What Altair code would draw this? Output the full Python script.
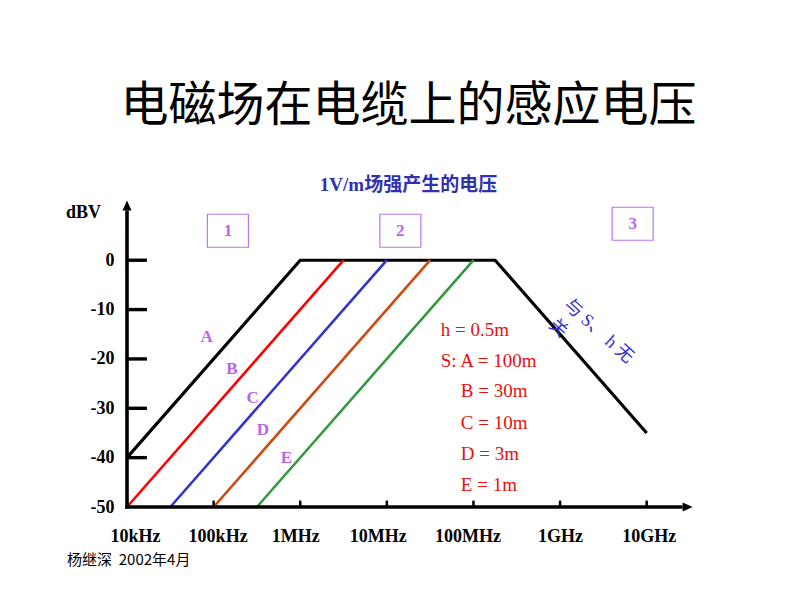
import altair as alt
import pandas as pd

# ---------------- values ----------------
# x axis: decades above 10 kHz
decades = [0, 1, 2, 3, 4, 5, 6]
freq_labels = ["10kHz", "100kHz", "1MHz", "10MHz", "100MHz", "1GHz", "10GHz"]
freq_label_shift = [8, 4, -5, -9, -6, 0, 2]
db_ticks = [0, -10, -20, -30, -40, -50]

# curves: (decade, dBV)
series_names = ["A", "B", "C", "D", "E"]
a_dec = [0, 2, 4.25, 6]
a_db = [-40, 0, 0, -35]
b_dec = [0, 2.5]
b_db = [-50, 0]
c_dec = [0.5, 3.0]
c_db = [-50, 0]
d_dec = [1.0, 3.5]
d_db = [-50, 0]
e_dec = [1.5, 4.0]
e_db = [-50, 0]
series_colors = ["#000000", "#ff0000", "#3333cc", "#cc4a12", "#33993d"]
series_widths = [3.2, 2.6, 2.6, 2.6, 2.6]

# curve labels
curve_label_dec = [0.92, 1.21, 1.45, 1.57, 1.84]
curve_label_db = [-15.6, -22.1, -27.9, -34.4, -40.1]

# region boxes
region_labels = ["1", "2", "3"]
region_dec = [1.165, 3.156, 5.838]
region_db = [5.97, 5.97, 7.39]

# legend text (red)
note_lines = ["h = 0.5m", "S: A = 100m", "B = 30m", "C = 10m", "D = 3m", "E = 1m"]
note_dec = [3.623, 3.623, 3.854, 3.854, 3.854, 3.854]
note_db = [-14.17, -20.45, -26.5, -33.0, -39.27, -45.55]

# rotated note
rot_lines = ["与\u00a0S、\u00a0h\u00a0无", "关"]
rot_dec = [5.073, 4.90]
rot_db = [-8.56, -12.6]

TITLE = "电磁场在电缆上的感应电压"
SUBTITLE = "1V/m场强产生的电压"
FOOTER = "杨继深\u00a0\u00a02002年4月"
Y_UNIT = "dBV"

# ---------------- tables ----------------
all_dec = [a_dec, b_dec, c_dec, d_dec, e_dec]
all_db = [a_db, b_db, c_db, d_db, e_db]
rows = []
for name, xs, ys, w in zip(series_names, all_dec, all_db, series_widths):
    for i, (x, y) in enumerate(zip(xs, ys)):
        rows.append({"series": name, "i": i, "d": x, "db": y, "w": w})
lines_df = pd.DataFrame(rows)

X_SCALE = alt.Scale(domain=[0, 6.5], nice=False, zero=False)
Y_SCALE = alt.Scale(domain=[-50, 12], nice=False, zero=False)

label_expr = "[" + ",".join(f"'{s}'" for s in freq_labels) + "][datum.value]"
x_axis = alt.Axis(
    values=decades, labelExpr=label_expr, domain=False, ticks=False, grid=False,
    labelFont="Liberation Serif", labelFontWeight="bold", labelFontSize=18,
    labelColor="black", labelPadding=20, labelFlush=False, labelOverlap=False,
    labelOffset={"condition": [{"test": f"datum.value == {d}", "value": o}
                               for d, o in zip(decades, freq_label_shift) if o != 0],
                 "value": 0},
    title=None,
)
y_axis = alt.Axis(
    values=db_ticks, domain=False, ticks=False, grid=False,
    labelExpr="datum.value < 0 ? '-' + abs(datum.value) : '' + datum.value",
    labelFont="Liberation Serif", labelFontWeight="bold", labelFontSize=18,
    labelColor="black", labelPadding=13, labelFlush=False, labelOverlap=False,
    title=None,
)


def X(f="d"):
    return alt.X(f, type="quantitative", scale=X_SCALE, axis=x_axis)


def Y(f="db"):
    return alt.Y(f, type="quantitative", scale=Y_SCALE, axis=y_axis)


# axis lines and ticks (data units)
y_top = 10.1
x_end = 6.415
axis_df = pd.DataFrame([
    {"d": 0, "d2": 0, "db": -50.3, "db2": y_top},
    {"d": -0.02, "d2": x_end, "db": -50, "db2": -50},
])
ytick_df = pd.DataFrame([{"d": 0, "d2": 0.23, "db": v, "db2": v} for v in db_ticks if v != -50])
xtick_df = pd.DataFrame([{"d": v, "d2": v, "db": -50, "db2": -48.7} for v in decades if v != 0])
arrow_df = pd.DataFrame([
    {"d": 0, "db": y_top, "shape": "M0,-10L-4.5,0L4.5,0Z"},
    {"d": x_end, "db": -50, "shape": "M10,0L0,-4.5L0,4.5Z"},
])

axis_lines = alt.Chart(axis_df).mark_rule(color="black", strokeWidth=3.6).encode(
    x=X(), x2="d2:Q", y=Y(), y2="db2:Q")
yticks = alt.Chart(ytick_df).mark_rule(color="black", strokeWidth=3.4).encode(
    x=X(), x2="d2:Q", y=Y(), y2="db2:Q")
xticks = alt.Chart(xtick_df).mark_rule(color="black", strokeWidth=2.5).encode(
    x=X(), x2="d2:Q", y=Y(), y2="db2:Q")
arrows = alt.Chart(arrow_df).mark_point(filled=True, opacity=1, size=4, color="black").encode(
    x=X(), y=Y(), shape=alt.Shape("shape:N", scale=None))

curves = alt.Chart(lines_df).mark_line(strokeCap="butt").encode(
    x=X(), y=Y(), order="i:Q",
    color=alt.Color("series:N", scale=alt.Scale(domain=series_names, range=series_colors), legend=None),
    strokeWidth=alt.StrokeWidth("w:Q", scale=None),
)

curve_lbl = alt.Chart(pd.DataFrame({"t": series_names, "d": curve_label_dec, "db": curve_label_db})).mark_text(
    font="Liberation Serif", fontWeight="bold", fontSize=17, color="#b866ee", baseline="middle"
).encode(x=X(), y=Y(), text="t:N")

box_df = pd.DataFrame({"t": region_labels, "d": region_dec, "db": region_db})
boxes = alt.Chart(box_df).mark_point(
    shape="M-20.5,-16.5L20.5,-16.5L20.5,16.5L-20.5,16.5Z", size=4, filled=False,
    stroke="#b877ee", strokeWidth=1.2, opacity=1
).encode(x=X(), y=Y())
box_txt = alt.Chart(box_df).mark_text(
    font="Liberation Serif", fontWeight="bold", fontSize=17, color="#b866ee", baseline="middle"
).encode(x=X(), y=Y(), text="t:N")

notes = alt.Chart(pd.DataFrame({"t": note_lines, "d": note_dec, "db": note_db})).mark_text(
    font="Liberation Serif", fontSize=19, color="#e81010", align="left", baseline="middle"
).encode(x=X(), y=Y(), text="t:N")

rot = alt.Chart(pd.DataFrame({"t": rot_lines, "d": rot_dec, "db": rot_db})).mark_text(
    font="Liberation Serif, Noto Sans CJK SC", fontSize=18, color="#3333cc", align="left",
    baseline="middle", angle=42
).encode(x=X(), y=Y(), text="t:N")

unit = alt.Chart(pd.DataFrame({"t": [Y_UNIT], "d": [-0.502], "db": [9.58]})).mark_text(
    font="Liberation Serif", fontWeight="bold", fontSize=18, color="black", baseline="middle"
).encode(x=X(), y=Y(), text="t:N")

footer = alt.Chart(pd.DataFrame({"t": [FOOTER], "d": [-0.692], "db": [-60.7]})).mark_text(
    font="Noto Sans CJK SC", fontSize=15, color="black", align="left", baseline="middle"
).encode(x=X(), y=Y(), text="t:N")

chart = alt.layer(
    curves, axis_lines, yticks, xticks, arrows, curve_lbl, boxes, box_txt, notes, rot, unit, footer
).properties(
    width=563, height=306,
    autosize=alt.AutoSizeParams(type="none"),
    padding={"left": 119, "top": 193, "right": 100, "bottom": 80},
    background="white",
    title=alt.TitleParams(
        text=TITLE, subtitle=SUBTITLE, font="Noto Sans CJK SC", fontSize=48, fontWeight="normal",
        color="black", subtitleFont="Liberation Serif, Noto Sans CJK SC", subtitleFontSize=19,
        subtitleFontWeight="bold", subtitleColor="#3030b0", subtitlePadding=45, offset=5,
        anchor="middle", frame="group",
    ),
).configure_view(stroke="transparent", strokeWidth=0)

chart.save("out.html", embed_options={"renderer": "svg", "actions": False})
